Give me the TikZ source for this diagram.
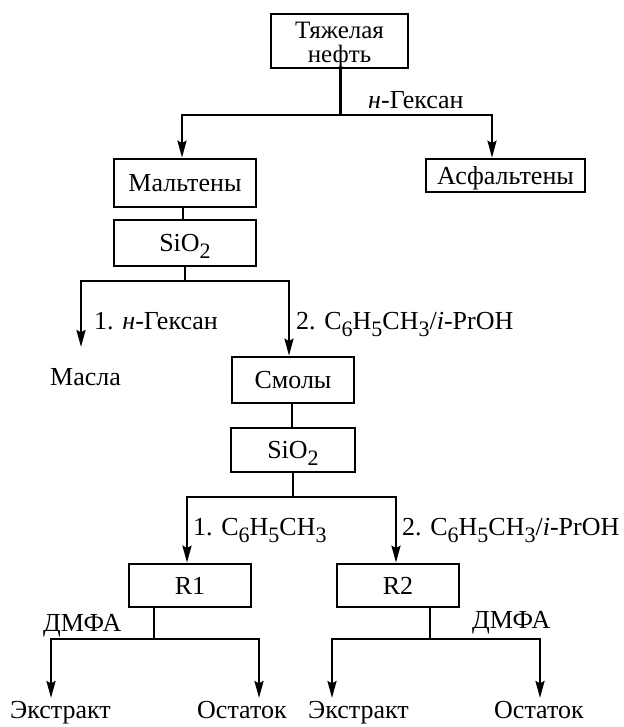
\documentclass[tikz,border=0pt]{standalone}
\usepackage{fontspec}
\setmainfont{Liberation Serif}
\usetikzlibrary{arrows.meta}
\newcommand{\mysub}[1]{\raisebox{-7pt}{\fontsize{22}{22}\selectfont #1}}
\begin{document}
\begin{tikzpicture}[x=1pt,y=-1pt,
  box/.style={draw, line width=2.7pt, inner sep=0pt, text height=17.2pt, text depth=0pt, font=\fontsize{26}{30}\selectfont},
  lbl/.style={inner sep=0pt, font=\fontsize{26}{30}\selectfont},
  conn/.style={line width=2.6pt},
  thinconn/.style={line width=1.8pt},
  arr/.style={conn, -{Stealth[length=17pt,width=9pt,inset=2.5pt]}}]
\useasboundingbox (0,0) rectangle (623,727);
% boxes
\node[box, minimum width=137pt, minimum height=54pt] (oil) at (339.5,41) {};
\node[lbl, anchor=north, align=center, font=\fontsize{25}{24}\selectfont] (oilt) at (339.5,21.5) {Тяжелая\\нефть};
\node[box, minimum width=142pt, minimum height=48pt] (malt) at (185,183) {Мальтены};
\node[box, minimum width=159pt, minimum height=33pt] (asph) at (505.5,175.5) {Асфальтены};
\node[box, minimum width=142pt, minimum height=46pt] (si1) at (185,243) {SiO\mysub{2}};
\node[box, minimum width=122pt, minimum height=46pt] (smol) at (293,380) {Смолы};
\node[box, minimum width=124pt, minimum height=44pt] (si2) at (293,450) {SiO\mysub{2}};
\node[box, minimum width=122pt, minimum height=43pt] (r1) at (190,585.5) {R1};
\node[box, minimum width=122pt, minimum height=43pt] (r2) at (398,585.5) {R2};
% coordinates
\coordinate (j1) at (340.5,115);
\coordinate (j2) at (185,281);
\coordinate (m1) at (81,347);
\coordinate (j3) at (293,497);
\coordinate (j4) at (154,639);
\coordinate (e1) at (51,698);
\coordinate (e2) at (259,698);
\coordinate (j5) at (430,639);
\coordinate (e3) at (332,698);
\coordinate (e4) at (540,698);
% connectors
\draw[conn] (oil.south -| j1) -- (j1);
\draw[arr] (j1) -| ([xshift=-3pt]malt.north);
\draw[arr] (j1) -| ([xshift=-13.5pt]asph.north);
\draw[conn] ([xshift=-2pt]malt.south) -- ([xshift=-2pt]si1.north);
\draw[conn] (si1.south) -- (j2);
\draw[arr] (j2) -| (m1);
\draw[arr] (j2) -| ([xshift=-4pt]smol.north);
\draw[conn] ([xshift=-1pt]smol.south) -- ([xshift=-1pt]si2.north);
\draw[conn] (si2.south) -- (j3);
\draw[arr] (j3) -| ([xshift=-3pt]r1.north);
\draw[arr] (j3) -| ([xshift=-2pt]r2.north);
\draw[conn] (r1.south -| j4) -- (j4);
\draw[arr] (j4) -| (e1);
\draw[arr] (j4) -| (e2);
\draw[thinconn] (r2.south -| j5) -- (j5);
\draw[arr] (j5) -| (e3);
\draw[arr] (j5) -| (e4);
% labels
\node[lbl, anchor=base west] (hex1) at (368,109) {\textit{н}-Гексан};
\node[lbl, anchor=base west] (hex2) at (94,329) {1. \textit{н}-Гексан};
\node[lbl, anchor=base west] (tol1) at (296,329) {2. C\mysub{6}H\mysub{5}CH\mysub{3}/\textit{i}-PrOH};
\node[lbl, anchor=base west] (masla) at (50,385) {Масла};
\node[lbl, anchor=base west] (tol2) at (193,535) {1. C\mysub{6}H\mysub{5}CH\mysub{3}};
\node[lbl, anchor=base west] (tol3) at (402,535) {2. C\mysub{6}H\mysub{5}CH\mysub{3}/\textit{i}-PrOH};
\node[lbl, anchor=base west] (dmfa1) at (43,631) {ДМФА};
\node[lbl, anchor=base west] (dmfa2) at (472,628) {ДМФА};
\node[lbl, anchor=base west] (ex1) at (10,718) {Экстракт};
\node[lbl, anchor=base west] (os1) at (197,718) {Остаток};
\node[lbl, anchor=base west] (ex2) at (308,718) {Экстракт};
\node[lbl, anchor=base west] (os2) at (494,718) {Остаток};
\end{tikzpicture}
\end{document}
